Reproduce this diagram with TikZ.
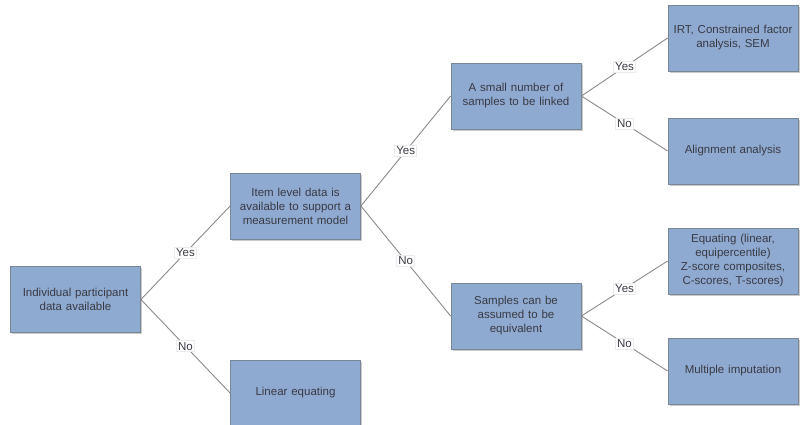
\documentclass[tikz,border=0pt]{standalone}
\usepackage{fontspec}
\setmainfont{Liberation Sans}
\usetikzlibrary{shadows}
\definecolor{boxfill}{HTML}{8FAAD0}
\definecolor{boxdraw}{HTML}{7A8796}
\definecolor{txt}{HTML}{3A3A44}
\definecolor{conn}{HTML}{8A8A8A}
\begin{document}
\begin{tikzpicture}[x=1pt,y=-1pt,
  box/.style={draw=boxdraw, line width=0.8pt, fill=boxfill, minimum width=130pt, minimum height=66pt,
    text width=124pt, align=center, inner sep=0pt, text=txt,
    font=\fontsize{11.5}{14}\selectfont,
    drop shadow={shadow xshift=1.5pt, shadow yshift=-1.5pt, fill=black!35, opacity=0.6}},
  conn/.style={draw=conn, line width=0.9pt},
  lab/.style={fill=white, draw=black!8, inner sep=1.5pt, text=txt, font=\fontsize{11.5}{14}\selectfont}]
\useasboundingbox (0,0) rectangle (800,424);
\node[box] (ind) at (75.5,299.5) {Individual participant\\data available};
\node[box] (item) at (295.5,206) {Item level data is available to support a measurement model};
\node[box] (lin) at (295.5,393) {Linear equating};
\node[box] (small) at (516,96) {A small number of\\samples to be linked};
\node[box] (samp) at (516,316) {Samples can be\\assumed to be\\equivalent};
\node[box] (irt) at (733,38) {IRT, Constrained factor\\analysis, SEM};
\node[box] (align) at (733,151) {Alignment analysis};
\node[box] (equ) at (733,261) {Equating (linear,\\equipercentile)\\Z-score composites,\\C-scores, T-scores)};
\node[box] (mi) at (733,371) {Multiple imputation};
\draw[conn] (ind.east) -- node[lab]{Yes} (item.west);
\draw[conn] (ind.east) -- node[lab]{No} (lin.west);
\draw[conn] (item.east) -- node[lab]{Yes} (small.west);
\draw[conn] (item.east) -- node[lab]{No} (samp.west);
\draw[conn] (small.east) -- node[lab]{Yes} (irt.west);
\draw[conn] (small.east) -- node[lab]{No} (align.west);
\draw[conn] (samp.east) -- node[lab]{Yes} (equ.west);
\draw[conn] (samp.east) -- node[lab]{No} (mi.west);
\end{tikzpicture}
\end{document}
